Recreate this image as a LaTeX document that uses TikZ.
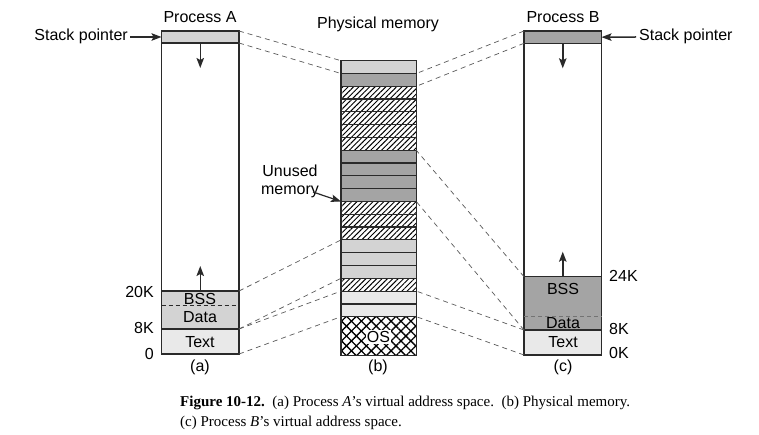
\documentclass[tikz,border=0pt]{standalone}
\usepackage{fontspec}
\setmainfont{Liberation Serif}
\setsansfont{Liberation Sans}
\usetikzlibrary{patterns.meta,arrows.meta}
\definecolor{memA}{HTML}{D3D3D3}
\definecolor{memB}{HTML}{A4A4A4}
\definecolor{memT}{HTML}{E9E9E9}
\definecolor{ink}{HTML}{2A2A2A}
\begin{document}
\begin{tikzpicture}[x=1pt,y=-1pt,
  pbox/.style={draw=ink, line width=1.4pt, minimum width=77.5pt, anchor=north west, inner sep=0pt, outer sep=0pt},
  blk/.style={draw=ink, line width=1.2pt, minimum width=75.3pt, minimum height=12.8pt, anchor=north west, inner sep=0pt, outer sep=0pt},
  lg/.style={fill=memA},
  dg/.style={fill=memB},
  tx/.style={fill=memT},
  ht/.style={pattern={Lines[angle=45,distance=3.8pt,line width=0.95pt]}},
  conn/.style={draw=black!65, line width=0.7pt, dash pattern=on 5pt off 4pt},
  lbl/.style={font=\fontsize{16}{18}\selectfont\sffamily, inner sep=0pt},
  arr/.style={-{Stealth[length=10pt,width=7.5pt,inset=2pt]}, line width=1.5pt, draw=ink},
]
\useasboundingbox (0,0) rectangle (759,435);

% ---------- Process A ----------
\node[pbox, minimum height=12pt, fill=memA] (Astk) at (161.5,31) {};
\node[pbox, minimum height=248pt] (Abody) at (161.5,43) {};
\node[pbox, minimum height=38pt, fill=memA] (Abd) at (161.5,291) {};
\node[pbox, minimum height=25pt, fill=memT] (Atx) at (161.5,329) {};
\draw[ink, line width=0.8pt, dash pattern=on 4pt off 3pt] (Abd.west |- 0,305) -- (Abd.east |- 0,305);
\node[lbl] (Abss) at (200,298.5) {BSS};
\node[lbl] (Adata) at (200,317) {Data};
\node[lbl] (Atext) at (200,342) {Text};
\draw[arr] (Astk.south) -- ++(0,25);
\draw[arr] (Abd.north) -- ++(0,-25);
\node[lbl] (Aname) at (200,17) {Process A};
\node[lbl, anchor=east] (spA) at (128,36) {Stack pointer};
\draw[arr] (spA.east) ++(2,1) -- (Astk.west);
\node[lbl, anchor=east] (A20) at (154,292) {20K};
\node[lbl, anchor=east] (A8) at (154,328) {8K};
\node[lbl, anchor=east] (A0) at (154,354) {0};
\node[lbl] (capa) at (200,367) {(a)};

% ---------- Physical memory ----------
\foreach \i/\s in {1/lg,2/dg,3/ht,4/ht,5/ht,6/ht,7/ht,8/dg,9/dg,10/dg,11/dg,12/ht,13/ht,14/ht,15/lg,16/lg,17/lg,18/ht,19/tx,20/tx}
  \node[blk,\s] (p\i) at (341,{60.7+(\i-1)*12.8}) {};
\node[blk, minimum height=38.4pt,
  preaction={pattern={Lines[angle=45,distance=7pt,line width=1.3pt]}},
  pattern={Lines[angle=-45,distance=7pt,line width=1.3pt]}] (os) at (341,316.7) {};
\node[lbl, fill=white, inner sep=1pt] (oslbl) at (378.5,337) {OS};
\node[lbl] (pname) at (378,24) {Physical memory};
\node[lbl] (capb) at (378,367) {(b)};
\node[lbl, align=center, font=\fontsize{16}{18}\selectfont\sffamily] (unused) at (290,181) {Unused\\memory};
\draw[arr, line width=1.2pt] (313,192) -- (p12.north west);

% ---------- Process B ----------
\node[pbox, minimum height=12.3pt, fill=memB] (Bstk) at (524,31) {};
\node[pbox, minimum height=233.4pt] (Bbody) at (524,43.3) {};
\node[pbox, minimum height=53.3pt, fill=memB] (Bbd) at (524,276.7) {};
\node[pbox, minimum height=25pt, fill=memT] (Btx) at (524,330) {};
\draw[black!55, line width=0.9pt, dash pattern=on 4pt off 3pt] (Bbd.west |- 0,316.7) -- (Bbd.east |- 0,316.7);
\node[lbl] (Bbss) at (563,289) {BSS};
\node[lbl] (Bdata) at (563,323.5) {Data};
\node[lbl] (Btext) at (563,342) {Text};
\draw[arr] (Bstk.south) -- ++(0,25);
\draw[arr] (Bbd.north) -- ++(0,-25);
\node[lbl] (Bname) at (563,17) {Process B};
\node[lbl, anchor=west] (spB) at (639,36) {Stack pointer};
\draw[arr] (spB.west) ++(-3,1) -- (Bstk.east);
\node[lbl, anchor=west] (B24) at (609,276) {24K};
\node[lbl, anchor=west] (B8) at (609,329) {8K};
\node[lbl, anchor=west] (B0) at (609,353) {0K};
\node[lbl] (capc) at (563,367) {(c)};

% ---------- connectors ----------
\draw[conn] (Astk.north east) -- (p1.north west);
\draw[conn] (Astk.south east) -- (p1.south west);
\draw[conn] (Abd.north east) -- (p15.north west);
\draw[conn] (Atx.north east) -- (p17.south west);
\draw[conn] (Atx.north east) -- (p19.north west);
\draw[conn] (Atx.south east) -- (os.north west);
\draw[conn] (Bstk.north west) -- (p2.north east);
\draw[conn] (Bstk.south west) -- (p2.south east);
\draw[conn] (Bbd.north west) -- (p8.north east);
\draw[conn] (Btx.north west) -- (p11.south east);
\draw[conn] (Btx.north west) -- (p19.north east);
\draw[conn] (Btx.south west) -- (os.north east);

% ---------- caption ----------
\node[anchor=base west, inner sep=0pt, font=\fontsize{15}{17}\selectfont] (cap1) at (180,406)
  {\textbf{Figure 10-12.}\enspace(a) Process \textit{A}’s virtual address space.\enspace (b) Physical memory.};
\node[anchor=base west, inner sep=0pt, font=\fontsize{15}{17}\selectfont] (cap2) at (180,426)
  {(c) Process \textit{B}’s virtual address space.};
\end{tikzpicture}
\end{document}
